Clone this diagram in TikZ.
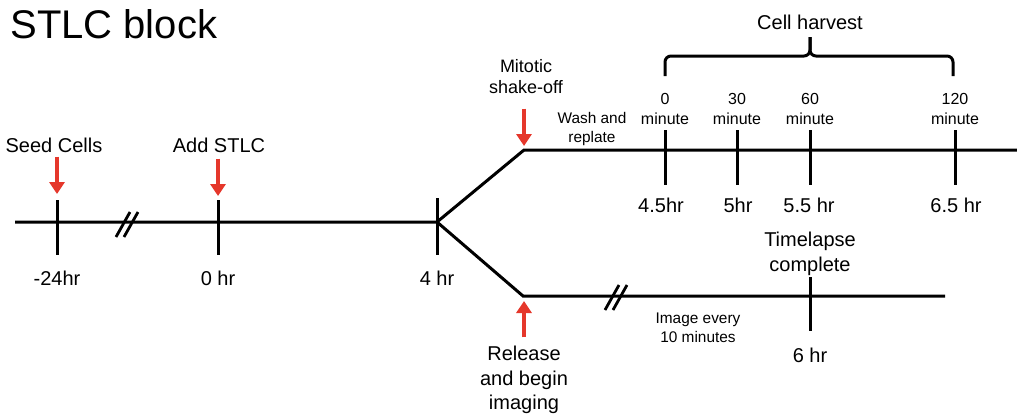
\documentclass[tikz,border=0pt]{standalone}
\usepackage{fontspec}
\setmainfont{Liberation Sans}
\usetikzlibrary{positioning, arrows.meta}
\definecolor{cue}{HTML}{E5372B}

\begin{document}
\begin{tikzpicture}[
  x=0.5pt, y=-0.5pt,
  every node/.style={align=center, inner sep=0pt},
  title/.style={font=\fontsize{20}{24}\selectfont},
  big/.style={font=\fontsize{10}{12.4}\selectfont},
  mid/.style={font=\fontsize{9}{10.5}\selectfont},
  small/.style={font=\fontsize{8}{10}\selectfont},
  tiny/.style={font=\fontsize{7.7}{9.3}\selectfont},
  axis/.style={line width=1.5pt, line join=miter},
  tick/.style={line width=1.5pt},
  slash/.style={line width=1.4pt},
  cuearr/.style={-{Triangle[width=7.5pt, length=6pt]}, line width=2pt, color=cue}
]
\useasboundingbox (0,0) rectangle (1017,418);
\node[title, anchor=base west] (ttl) at (10,38) {STLC block};
% time points
\coordinate (m0) at (15,222);
\coordinate (t24) at (57,222);
\coordinate (t0) at (218,222);
\coordinate (t4) at (437,222);
\coordinate (up) at (524,150);
\coordinate (upend) at (1017,150);
\coordinate (lo) at (523,296);
\coordinate (loend) at (945,296);
\coordinate (h45) at (665,150);
\coordinate (h5) at (737,150);
\coordinate (h55) at (810,150);
\coordinate (h65) at (955,150);
\coordinate (t6) at (810,296);
% timelines
\draw[axis] (m0) -- (t4) -- (up) -- (upend);
\draw[axis] (t4) -- (lo) -- (loend);
% ticks
\draw[tick] (t24) ++(0,-22) -- ++(0,55);
\draw[tick] (t0) ++(0,-22) -- ++(0,55);
\draw[tick] (t4) ++(0,-24) -- ++(0,57);
\draw[tick] (h45) ++(0,-20) -- ++(0,55);
\draw[tick] (h5) ++(0,-20) -- ++(0,55);
\draw[tick] (h55) ++(0,-20) -- ++(0,55);
\draw[tick] (h65) ++(0,-20) -- ++(0,55);
\draw[tick] (t6) ++(0,-19) -- ++(0,54);
% breaks
\draw[slash] (t24) ++(59,15) -- ++(14,-25) ++(-6,25) -- ++(14,-25);
\draw[slash] (lo) ++(82,14) -- ++(14,-25) ++(-6,25) -- ++(14,-25);
% labels on the first line
\node[big] (seed) at (54,145) {Seed Cells};
\node[big] (stlc) at (219,145) {Add STLC};
\node[big] (l24) at (57,278) {-24hr};
\node[big] (l0) at (218,278) {0 hr};
\node[big] (l4) at (437,278) {4 hr};
% labels on the harvest branch
\node[mid] (shake) at (526,77) {Mitotic\\shake-off};
\node[tiny] (wash) at (592,129) {Wash and\\replate};
\node[small] (m0l) at (665,109) {0\\minute};
\node[small] (m30l) at (737,109) {30\\minute};
\node[small] (m60l) at (810,109) {60\\minute};
\node[small] (m120l) at (955,109) {120\\minute};
\node[big] (l45) at (661,205) {4.5hr};
\node[big] (l5) at (738,205) {5hr};
\node[big] (l55) at (809,205) {5.5 hr};
\node[big] (l65) at (956,205) {6.5 hr};
\node[big] (harv) at (810,22) {Cell harvest};
% brace over the harvest points
\draw[axis, rounded corners=3pt] (h45) ++(0,-74) |- (810,56) -- (810,37);
\draw[axis, rounded corners=3pt] (h65) ++(-2,-74) |- (810,56) -- (810,37);
% labels on the imaging branch
\node[big] (rel) at (524,380) {Release\\and begin\\imaging};
\node[tiny] (img) at (698,328) {Image every\\10 minutes};
\node[big] (tl) at (810,254) {Timelapse\\complete};
\node[big] (l6) at (810,355) {6 hr};
% red cue arrows
\draw[cuearr] ([yshift=-2pt]seed.south -| t24) -- ([yshift=14pt]t24);
\draw[cuearr] ([yshift=-3pt]stlc.south -| t0) -- ([yshift=13pt]t0);
\draw[cuearr] ([yshift=-7pt]shake.south -| up) -- ([yshift=2pt]up);
\draw[cuearr] ([yshift=4pt]rel.north -| up) -- ([yshift=-2.5pt]up |- lo);
\end{tikzpicture}
\end{document}
